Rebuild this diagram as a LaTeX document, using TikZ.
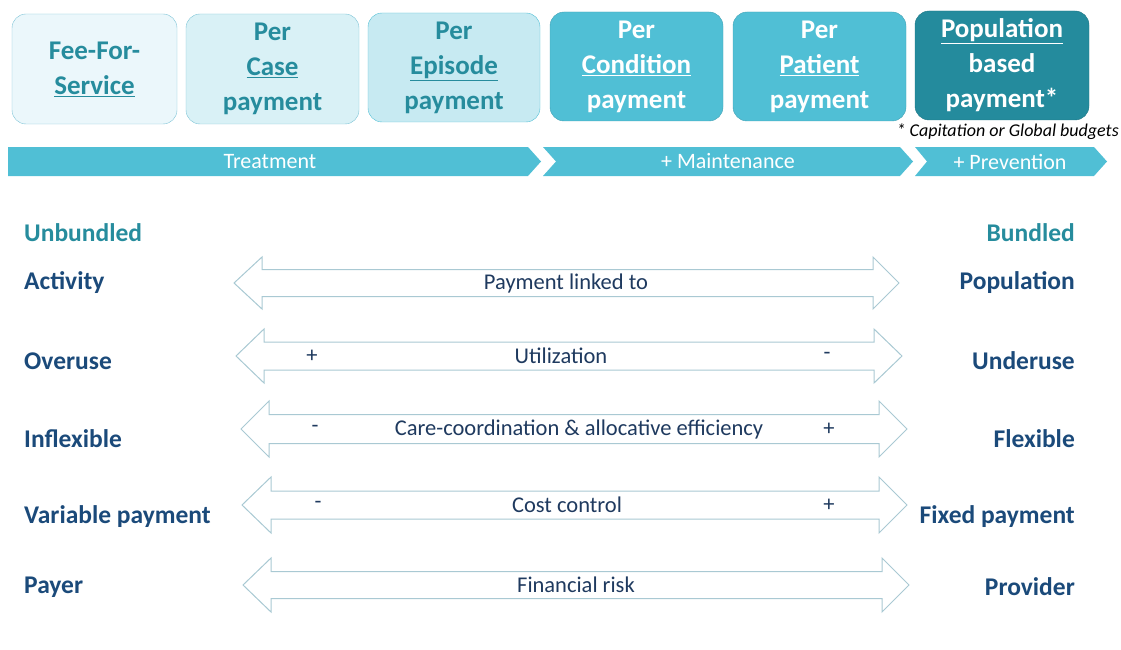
\documentclass[tikz,border=0pt]{standalone}
\usepackage{fontspec}
\setmainfont{Carlito}
\usepackage{tikz}

\definecolor{boxa}{HTML}{EBF7FB}
\definecolor{boxb}{HTML}{D9F1F6}
\definecolor{boxc}{HTML}{C7EAF2}
\definecolor{boxd}{HTML}{50BFD5}
\definecolor{boxf}{HTML}{248B9D}
\definecolor{boxline}{HTML}{7CC3D6}
\definecolor{tealtext}{HTML}{268C9D}
\definecolor{navy}{HTML}{1B4A7A}
\definecolor{arrowtext}{HTML}{1F3A5F}
\definecolor{arrowline}{HTML}{A9C9D3}

\begin{document}
\begin{tikzpicture}[x=1pt,y=-1pt]
			\tikzstyle{every node}+=[inner sep=0pt]
			\tikzstyle{paybox}=[draw=boxline, rounded corners=14pt, align=center, font=\fontsize{27}{35}\selectfont\bfseries]
			\tikzstyle{side}=[text=navy, font=\fontsize{25.5}{28}\selectfont\bfseries]
			\tikzstyle{band}=[text=white, font=\fontsize{22}{24}\selectfont]
			\tikzstyle{inarrow}=[text=arrowtext, font=\fontsize{22.5}{24}\selectfont]
			\useasboundingbox (0,0) rectangle (1121,650);
			% payment boxes
			\node [paybox, fill=boxa, text=tealtext, minimum width=165pt, minimum height=110pt] (ffs) at (94.5,69) {Fee-For-\\\underline{Service}};
			\node [paybox, fill=boxb, text=tealtext, minimum width=173pt, minimum height=110pt] (case) at (272.5,69) {Per\\\underline{Case}\\payment};
			\node [paybox, fill=boxc, draw=boxd, text=tealtext, minimum width=172pt, minimum height=109pt] (episode) at (454,67.5) {Per\\\underline{Episode}\\payment};
			\node [paybox, fill=boxd, draw=boxd!85!black, text=white, minimum width=173pt, minimum height=109pt] (condition) at (636.5,66.5) {Per\\\underline{Condition}\\payment};
			\node [paybox, fill=boxd, draw=boxd!85!black, text=white, minimum width=173pt, minimum height=109pt] (patient) at (819.5,66.5) {Per\\\underline{Patient}\\payment};
			\node [paybox, fill=boxf, draw=boxf!85!black, text=white, minimum width=174pt, minimum height=109pt] (population) at (1002,65.5) {\underline{Population}\\based\\payment*};
			\node [anchor=east, font=\fontsize{18}{20}\selectfont\itshape] (note) at (1119,132) {* Capitation or Global budgets};
			% chevrons
			\fill [boxd] (8,147) -- (528,147) -- (541,161.5) -- (528,176) -- (8,176) -- cycle;
			\fill [boxd] (543,147) -- (900,147) -- (913,161.5) -- (900,176) -- (543,176) -- (556,161.5) -- cycle;
			\fill [boxd] (915,147) -- (1094,147) -- (1107,161.5) -- (1094,176) -- (915,176) -- (927,161.5) -- cycle;
			\node [band] (treat) at (270,161.5) {Treatment};
			\node [band] (maint) at (728,161.5) {+ Maintenance};
			\node [band] (prev) at (1010,161.5) {+ Prevention};
			% ends of the scale
			\node [anchor=west, text=tealtext, font=\fontsize{25.5}{28}\selectfont\bfseries] (unb) at (24,233) {Unbundled};
			\node [anchor=east, text=tealtext, font=\fontsize{25.5}{28}\selectfont\bfseries] (bun) at (1075,233) {Bundled};
			\node [side, anchor=west] (l1) at (24,283) {Activity};
			\node [side, anchor=west] (l2) at (24,361) {Overuse};
			\node [side, anchor=west] (l3) at (24,439) {Inflexible};
			\node [side, anchor=west] (l4) at (24,517) {Variable payment};
			\node [side, anchor=west] (l5) at (24,587) {Payer};
			\node [side, anchor=east] (r1) at (1075,283) {Population};
			\node [side, anchor=east] (r2) at (1075,361) {Underuse};
			\node [side, anchor=east] (r3) at (1075,439) {Flexible};
			\node [side, anchor=east] (r4) at (1075,517) {Fixed payment};
			\node [side, anchor=east] (r5) at (1075,587) {Provider};
			% double arrows
			\foreach \yc/\xl/\bl/\br/\xr/\hh/\sh in {283/234/262/873/899/26/13.5, 356/236/264/874/902/27/14, 429/241/269/879/907/28/14.5, 505/242/271/879/907/28/14, 585/243/271/882/909/27/13.5}
				\draw [arrowline, line width=1pt, fill=white] (\xl,\yc) -- (\bl,{\yc-\hh}) -- (\bl,{\yc-\sh}) -- (\br,{\yc-\sh}) -- (\br,{\yc-\hh}) -- (\xr,\yc) -- (\br,{\yc+\hh}) -- (\br,{\yc+\sh}) -- (\bl,{\yc+\sh}) -- (\bl,{\yc+\hh}) -- cycle;
			\node [inarrow] (t1) at (566,283) {Payment linked to};
			\node [inarrow] (p2) at (312,356) {+};
			\node [inarrow] (t2) at (561,356) {Utilization};
			\node [inarrow] (m2) at (827,356) {-};
			\node [inarrow] (m3) at (315,429) {-};
			\node [inarrow] (t3) at (579,429) {Care-coordination \& allocative efficiency};
			\node [inarrow] (p3) at (829,429) {+};
			\node [inarrow] (m4) at (318,505) {-};
			\node [inarrow] (t4) at (567,505) {Cost control};
			\node [inarrow] (p4) at (829,505) {+};
			\node [inarrow] (t5) at (576,585) {Financial risk};
\end{tikzpicture}
\end{document}
